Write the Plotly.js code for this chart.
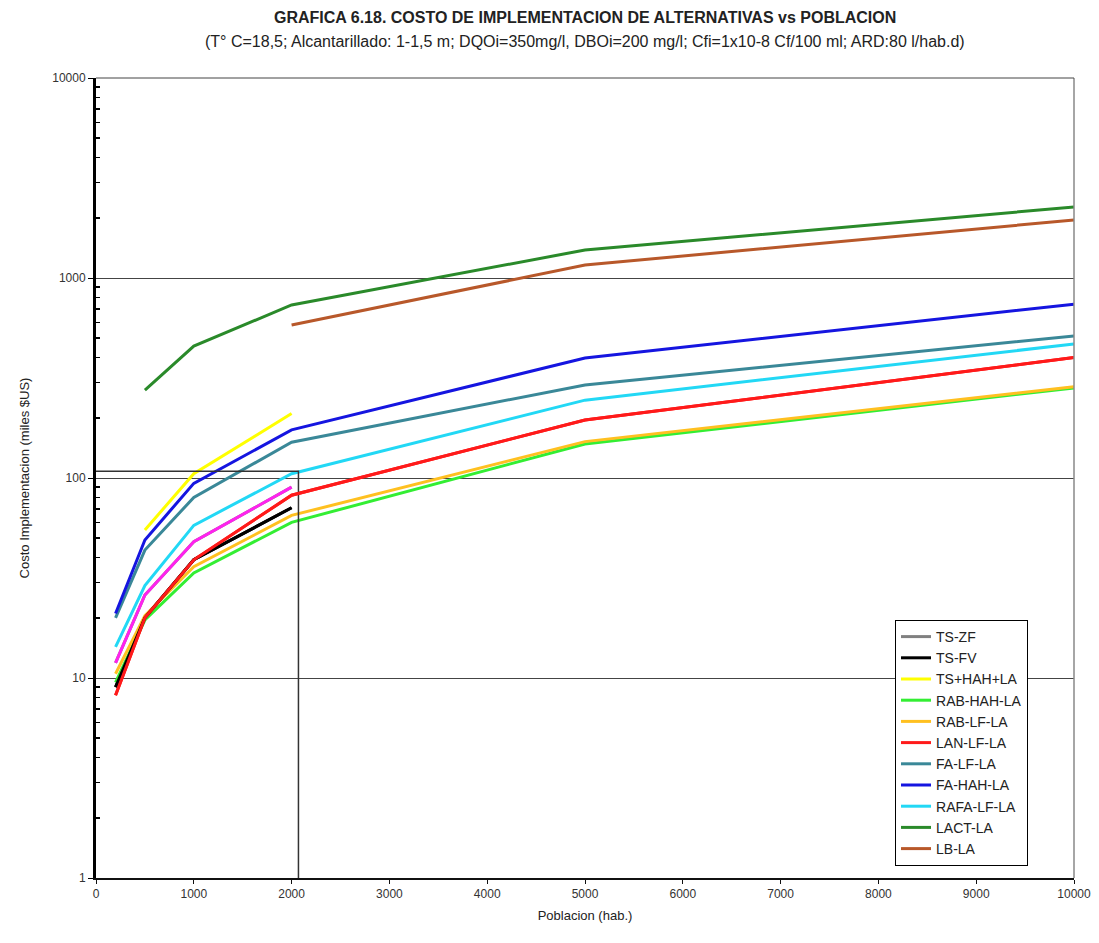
<!DOCTYPE html>
<html>
<head>
<meta charset="utf-8">
<script src="https://cdn.plot.ly/plotly-3.0.1.min.js"></script>
<style>body{margin:0;background:#fff;} #chart{width:1099px;height:943px;}</style>
</head>
<body>
<div id="chart"></div>
<script>
// Population (hab.)
const popShort = [200, 500, 1000, 2000];
const popLong = [200, 500, 1000, 2000, 5000, 10000];
const popYellow = [500, 1000, 2000];
const popLACT = [500, 1000, 2000, 5000, 10000];
const popLB = [2000, 5000, 10000];

// Cost (miles $US)
const tsZF = [11.9, 26, 48, 90];
const tsFV = [9, 20, 39, 71];
const tsHAH = [55, 105, 210];
const rabHAH = [9.5, 19.5, 33.5, 60, 148, 282];
const rabLF = [10.5, 20.5, 36, 65, 152, 286];
const lanLF = [8.2, 20, 39, 82, 195, 400];
const faLF = [20, 43.6, 80, 151, 292, 513];
const faHAH = [21, 49, 94, 174, 398, 740];
const rafaLF = [14.3, 29, 58, 105, 245, 468];
const lact = [275, 457, 733, 1380, 2265];
const lb = [582, 1161, 1950];

// highlighted region box (x up to ~2070 hab, y up to ~108)
const boxX = [0, 2070, 2070];
const boxY = [108, 108, 1];

const yTicks = [1, 10, 100, 1000, 10000];
const yTickText = ['1', '10', '100', '1000', '10000'];
const xTicks = [0, 1000, 2000, 3000, 4000, 5000, 6000, 7000, 8000, 9000, 10000];

const minorTicks = [];
[1, 10, 100, 1000].forEach(d => { for (let m = 2; m <= 9; m++) minorTicks.push(m * d); });

const W = 3;
function tr(name, x, y, color, extra) {
  return Object.assign({type: 'scatter', mode: 'lines', name: name, x: x, y: y,
    line: {color: color, width: W}}, extra || {});
}

const traces = [
  tr('TS-ZF', popShort, tsZF, '#808080'),
  tr('TS-FV', popShort, tsFV, '#000000'),
  tr('TS+HAH+LA', popYellow, tsHAH, '#FFFF00'),
  tr('RAB-HAH-LA', popLong, rabHAH, '#33EE33'),
  tr('RAB-LF-LA', popLong, rabLF, '#FFC020'),
  tr('LAN-LF-LA', popLong, lanLF, '#FF1A1A'),
  tr('FA-LF-LA', popLong, faLF, '#3A8898'),
  tr('FA-HAH-LA', popLong, faHAH, '#1515E0'),
  tr('RAFA-LF-LA', popLong, rafaLF, '#22D8F5'),
  tr('LACT-LA', popLACT, lact, '#2A8A2A'),
  tr('LB-LA', popLB, lb, '#B8582A'),
  tr('TS-ZF ', popShort, tsZF, '#FF22EE', {showlegend: false}),
  tr('box', boxX, boxY, '#222222', {showlegend: false, line: {color: '#333', width: 1.5}, cliponaxis: false})
];
traces.push(tr('TS-FV ', popShort, tsFV, '#000000', {showlegend: false}));
traces.push(tr('LAN-LF-LA ', popLong, lanLF, '#FF1A1A', {showlegend: false}));

const font = 'Liberation Sans Narrow, Arial Narrow, Liberation Sans, Arial, sans-serif';

const layout = {
  width: 1099, height: 943,
  margin: {l: 96, r: 25, t: 78, b: 65},
  paper_bgcolor: '#fff', plot_bgcolor: '#fff',
  font: {family: font, size: 12, color: '#222'},
  showlegend: true,
  legend: {x: 0.817, y: 0.3225, xanchor: 'left', yanchor: 'top',
    bordercolor: '#000', borderwidth: 1, bgcolor: '#fff',
    font: {family: font, size: 14, color: '#222'}, tracegroupgap: 0, itemwidth: 30},
  xaxis: {range: [0, 10000], tickvals: xTicks, tickformat: 'd', showgrid: false, zeroline: false,
    showline: true, linecolor: '#111', linewidth: 2,
    ticks: 'outside', ticklen: 4, tickcolor: '#111',
    tickfont: {family: font, size: 12, color: '#333'},
    title: {text: 'Poblacion (hab.)', font: {family: font, size: 13, color: '#222'}, standoff: 10}},
  yaxis: {type: 'log', range: [0, 4], tickvals: yTicks, ticktext: yTickText,
    showgrid: true, gridcolor: '#444', gridwidth: 1, zeroline: false,
    showline: true, linecolor: '#000', linewidth: 3,
    ticks: 'outside', ticklen: 5, tickcolor: '#000',
    minor: {tickvals: minorTicks, ticks: 'inside', ticklen: 4, tickcolor: '#000', tickwidth: 1.5, showgrid: false},
    tickfont: {family: font, size: 12, color: '#333'},
    title: {text: 'Costo Implementacion (miles $US)', font: {family: font, size: 13, color: '#222'}, standoff: 20}},
  shapes: [
    {type: 'line', xref: 'paper', yref: 'paper', x0: 1, x1: 1, y0: 0, y1: 1, line: {color: '#888', width: 1.5}},
    {type: 'line', xref: 'paper', yref: 'paper', x0: 0, x1: 1, y0: 1, y1: 1, line: {color: '#444', width: 1}}
  ],
  annotations: [
    {xref: 'paper', yref: 'paper', x: 0.5, y: 1, yshift: 61, xanchor: 'center', yanchor: 'middle', showarrow: false,
      text: '<b>GRAFICA 6.18. COSTO DE IMPLEMENTACION DE ALTERNATIVAS vs POBLACION</b>',
      font: {family: font, size: 16, color: '#222'}},
    {xref: 'paper', yref: 'paper', x: 0.5, y: 1, yshift: 37, xanchor: 'center', yanchor: 'middle', showarrow: false,
      text: '(T° C=18,5; Alcantarillado: 1-1,5 m; DQOi=350mg/l, DBOi=200 mg/l; Cfi=1x10-8 Cf/100 ml; ARD:80 l/hab.d)',
      font: {family: font, size: 16, color: '#222'}}
  ]
};

Plotly.newPlot('chart', traces, layout, {displayModeBar: false, staticPlot: true});
</script>
</body>
</html>
